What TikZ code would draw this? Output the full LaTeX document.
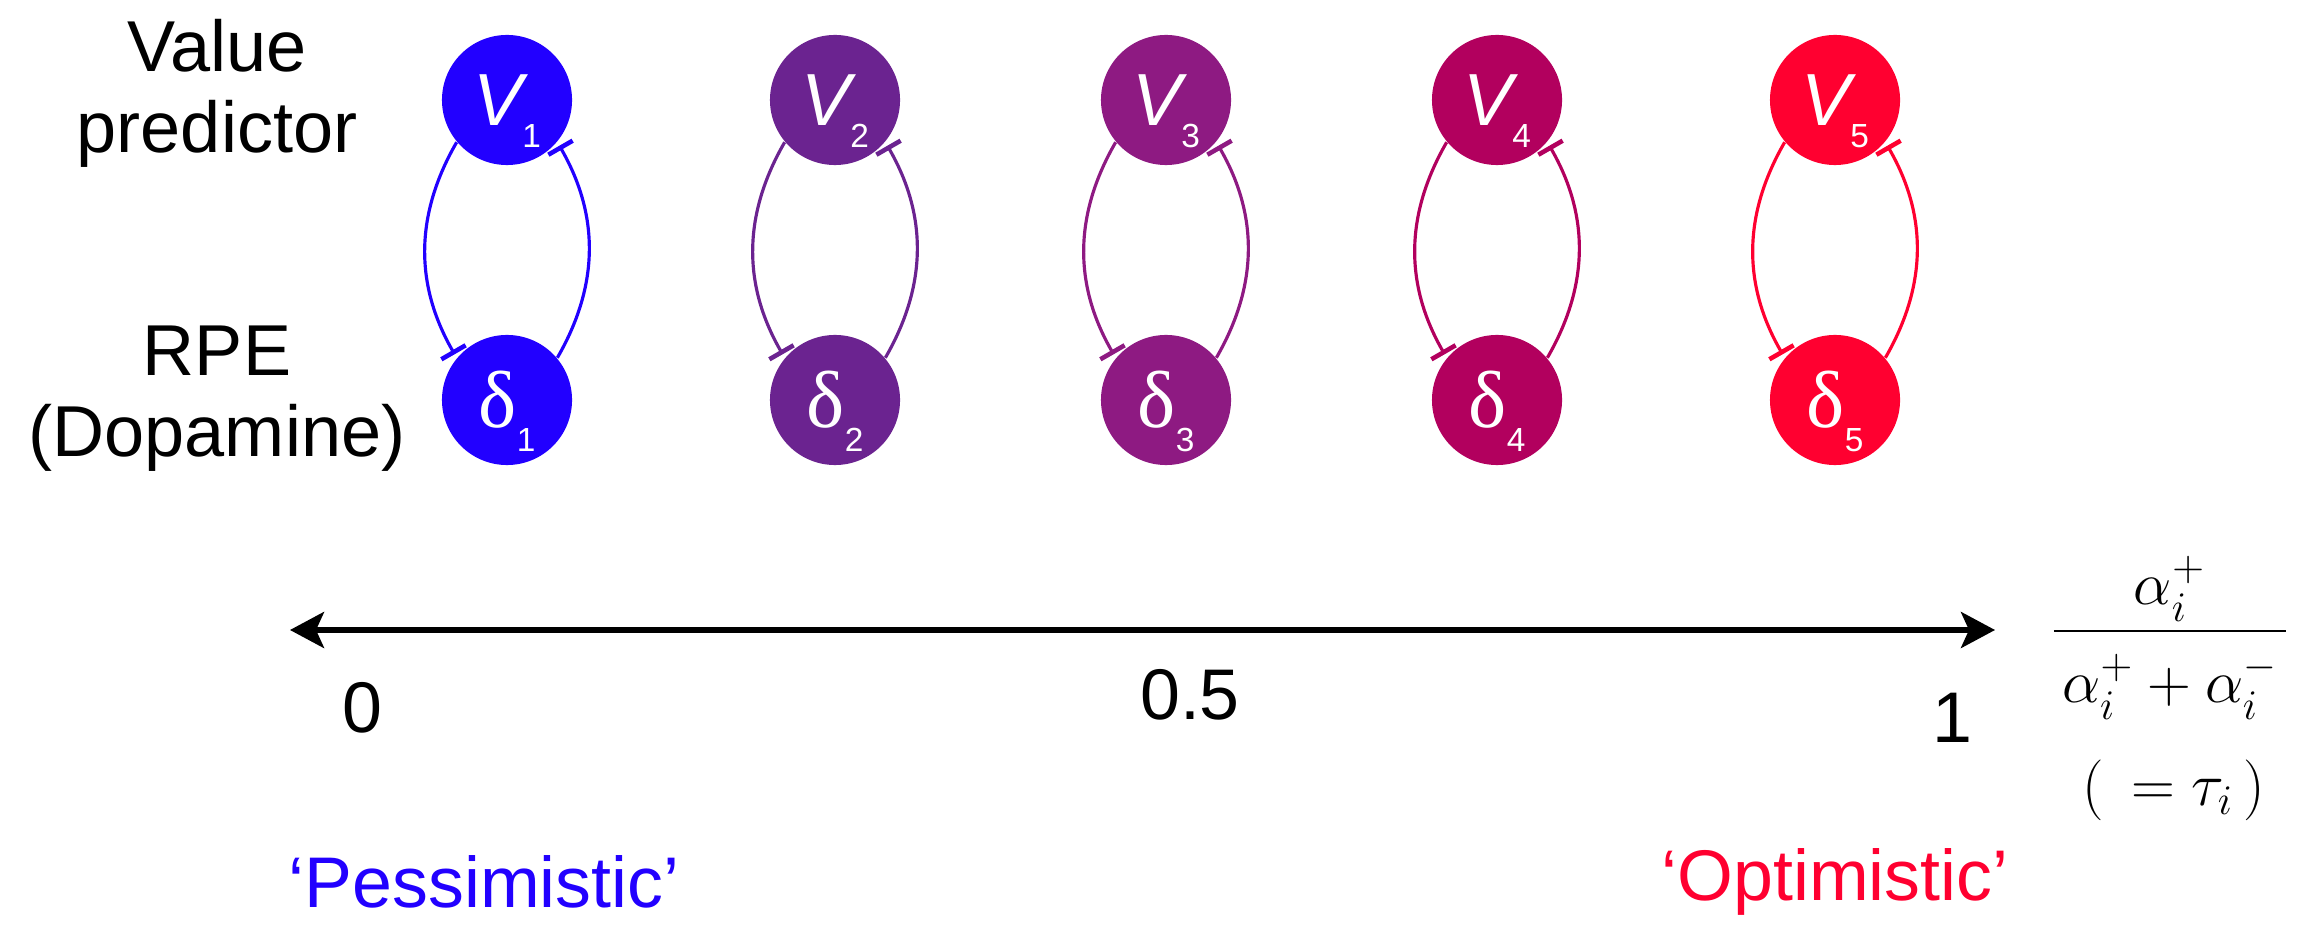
\documentclass[tikz,border=0pt]{standalone}
\usepackage{fontspec}
\usepackage{amsmath}
\setmainfont{Liberation Sans}
\newfontfamily\greekfont{Liberation Serif}
\usetikzlibrary{arrows.meta}
\definecolor{c1}{HTML}{2200FF}
\definecolor{c2}{HTML}{6B2390}
\definecolor{c3}{HTML}{8E1A82}
\definecolor{c4}{HTML}{B2005E}
\definecolor{c5}{HTML}{FF0030}
\newcommand{\vlabel}[1]{{\fontsize{21}{21}\selectfont\itshape V}\smash{\raisebox{-0.22cm}{\fontsize{9.5}{9.5}\selectfont #1}}}
\newcommand{\dlabel}[1]{{\greekfont\fontsize{23}{23}\selectfont δ}\smash{\raisebox{-0.24cm}{\fontsize{9.5}{9.5}\selectfont #1}}}

\begin{document}
\begin{tikzpicture}[x=0.01cm,y=-0.01cm,
  unit/.style={circle,fill=#1,minimum size=1.3cm,inner sep=0pt,text=white},
  feedback/.style={draw=#1,line width=0.9pt,shorten >=0.04cm,-{Bar[width=0.28cm,line width=1.3pt]}},
  bigtext/.style={font=\fontsize{20.4}{24}\selectfont},
  sidetext/.style={font=\fontsize{20.5}{23}\selectfont,align=center},
  axisline/.style={line width=1.5pt,{Stealth[length=0.34cm,width=0.36cm,inset=0.08cm]}-{Stealth[length=0.34cm,width=0.36cm,inset=0.08cm]}}]
\useasboundingbox (0,0) rectangle (2306,937);
\node (lbl-v) at (217,93) [sidetext] {Value\\predictor};
\node (lbl-d) at (217,399) [sidetext] {RPE\\(Dopamine)};
\node (v-1) at (507,100) [unit=c1] {\vlabel{1}};
\node (d-1) at (507,400) [unit=c1] {\dlabel{1}};
\node (v-2) at (835,100) [unit=c2] {\vlabel{2}};
\node (d-2) at (835,400) [unit=c2] {\dlabel{2}};
\node (v-3) at (1166,100) [unit=c3] {\vlabel{3}};
\node (d-3) at (1166,400) [unit=c3] {\dlabel{3}};
\node (v-4) at (1497,100) [unit=c4] {\vlabel{4}};
\node (d-4) at (1497,400) [unit=c4] {\dlabel{4}};
\node (v-5) at (1835,100) [unit=c5] {\vlabel{5}};
\node (d-5) at (1835,400) [unit=c5] {\dlabel{5}};
\draw[feedback=c1] (v-1.220) to[bend right=30] (d-1.140);
\draw[feedback=c1] (d-1.40) to[bend right=30] (v-1.-40);
\draw[feedback=c2] (v-2.220) to[bend right=30] (d-2.140);
\draw[feedback=c2] (d-2.40) to[bend right=30] (v-2.-40);
\draw[feedback=c3] (v-3.220) to[bend right=30] (d-3.140);
\draw[feedback=c3] (d-3.40) to[bend right=30] (v-3.-40);
\draw[feedback=c4] (v-4.220) to[bend right=30] (d-4.140);
\draw[feedback=c4] (d-4.40) to[bend right=30] (v-4.-40);
\draw[feedback=c5] (v-5.220) to[bend right=30] (d-5.140);
\draw[feedback=c5] (d-5.40) to[bend right=30] (v-5.-40);
\coordinate (ax-l) at (290,630);
\coordinate (ax-r) at (1995,630);
\draw[axisline] (ax-l) -- (ax-r);
\node (t-0) at (362,708) [bigtext] {0};
\node (t-half) at (1190,695) [bigtext] {0.5};
\node (t-1) at (1952,718) [bigtext] {1};
\node (frac) at (2170,646) [anchor=base,font=\fontsize{17.5}{20}\selectfont] {$\dfrac{\alpha_i^+}{\makebox[2.32cm]{$\rule{0pt}{18pt}\alpha_i^+ + \alpha_i^-$}}$};
\node (tau) at (2174,790) [font=\fontsize{18.5}{22}\selectfont] {$(\;\,=\tau_i\,)$};
\node (pess) at (484,882) [bigtext,text=c1] {‘Pessimistic’};
\node (opt) at (1835,882) [bigtext,text=c5] {‘Optimistic’};
\end{tikzpicture}
\end{document}
